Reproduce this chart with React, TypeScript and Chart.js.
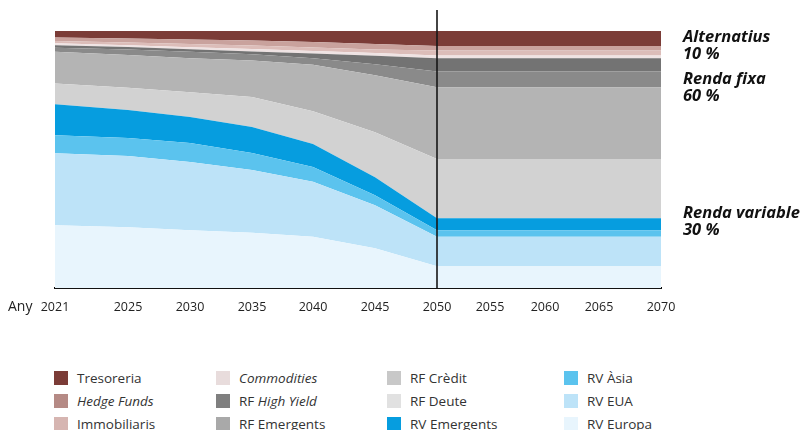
import React, { useEffect, useRef } from 'react';
import { Chart, registerables, LinearScale } from 'chart.js';

// ---- data -------------------------------------------------------------
const YEARS = [2021, 2025, 2030, 2035, 2040, 2045, 2050, 2055, 2060, 2065, 2070];
const TICK_LABELS = ['2021', '2025', '2030', '2035', '2040', '2045', '2050', '2055', '2060', '2065', '2070'];
const SPLIT_YEAR = 2050;

// (percent of portfolio, stacked to 100)
const tresoreria = [2.5, 2.9, 3.3, 3.7, 4.3, 5.1, 5.8, 5.8, 5.8, 5.8, 5.8];
const hedgeFunds = [1.4, 1.6, 1.8, 1.9, 2.1, 2.1, 1.8, 1.8, 1.8, 1.8, 1.8];
const immobiliaris = [0.9, 1.0, 1.2, 1.4, 1.4, 1.4, 1.9, 1.9, 1.9, 1.9, 1.9];
const commodities = [0.7, 0.7, 0.8, 1.0, 1.0, 1.0, 1.1, 1.1, 1.1, 1.1, 1.1];
const rfHighYield = [1.0, 1.0, 1.0, 1.0, 1.8, 3.3, 5.2, 5.2, 5.2, 5.2, 5.2];
const rfEmergents = [1.6, 2.1, 2.5, 2.5, 2.5, 4.3, 6.1, 6.1, 6.1, 6.1, 6.1];
const rfCredit = [12.3, 12.8, 13.2, 14.2, 18.1, 22.2, 27.9, 27.9, 27.9, 27.9, 27.9];
const rfDeute = [8.1, 8.6, 9.7, 11.7, 12.8, 17.5, 23.1, 23.1, 23.1, 23.1, 23.1];
const rvEmergents = [12.1, 10.9, 10.1, 10.1, 8.9, 7.0, 4.6, 4.6, 4.6, 4.6, 4.6];
const rvAsia = [7.0, 7.0, 7.4, 6.6, 5.8, 3.9, 2.6, 2.6, 2.6, 2.6, 2.6];
const rvEua = [28.0, 27.8, 26.5, 24.4, 21.4, 16.7, 11.4, 11.4, 11.4, 11.4, 11.4];
const rvEuropa = [24.4, 23.6, 22.5, 21.5, 19.9, 15.5, 8.5, 8.5, 8.5, 8.5, 8.5];

// ---- axis spacing (the printed axis is not proportional to time) ------
const TICK_GAPS = [73, 62, 62, 61, 62, 62, 53, 55, 54, 62];

class PiecewiseScale extends LinearScale {
  static id = 'piecewise';
  static defaults = {};
  decimalFor(value: number): number {
    const total = TICK_GAPS.reduce((a, b) => a + b, 0);
    let acc = 0;
    for (let i = 0; i < YEARS.length - 1; i++) {
      const g = TICK_GAPS[i];
      if (value <= YEARS[i + 1] || i === YEARS.length - 2) {
        return (acc + (g * (value - YEARS[i])) / (YEARS[i + 1] - YEARS[i])) / total;
      }
      acc += g;
    }
    return 1;
  }
  getPixelForValue(value: any) {
    if (value === null || value === undefined || isNaN(value)) return NaN;
    return this.getPixelForDecimal(this.decimalFor(+value));
  }
  getValueForPixel(pixel: number) {
    const d = this.getDecimalForPixel(pixel);
    const total = TICK_GAPS.reduce((a, b) => a + b, 0);
    let acc = 0;
    for (let i = 0; i < YEARS.length - 1; i++) {
      const g = TICK_GAPS[i] / total;
      if (d <= acc + g || i === YEARS.length - 2) {
        return YEARS[i] + ((d - acc) / g) * (YEARS[i + 1] - YEARS[i]);
      }
      acc += g;
    }
    return YEARS[YEARS.length - 1];
  }
}

Chart.register(...registerables, PiecewiseScale as any);

type Series = { label: string; values: number[]; color: string };

// bottom to top
const STACK: Series[] = [
  { label: 'RV Europa', values: rvEuropa, color: '#e8f5fd' },
  { label: 'RV EUA', values: rvEua, color: '#bde3f8' },
  { label: 'RV Àsia', values: rvAsia, color: '#5bc3ee' },
  { label: 'RV Emergents', values: rvEmergents, color: '#069ddf' },
  { label: 'RF Deute', values: rfDeute, color: '#d2d2d2' },
  { label: 'RF Crèdit', values: rfCredit, color: '#b4b4b4' },
  { label: 'RF Emergents', values: rfEmergents, color: '#8a8a8a' },
  { label: 'RF High Yield', values: rfHighYield, color: '#737373' },
  { label: 'Commodities', values: commodities, color: '#efe3e3' },
  { label: 'Immobiliaris', values: immobiliaris, color: '#dcbdb9' },
  { label: 'Hedge Funds', values: hedgeFunds, color: '#c9a29d' },
  { label: 'Tresoreria', values: tresoreria, color: '#7b3c37' },
];

// legend, column by column ("*" marks italic text)
const LEGEND_COLUMNS: { text: string; color: string }[][] = [
  [
    { text: 'Tresoreria', color: '#7b3c37' },
    { text: '*Hedge Funds*', color: '#b58a85' },
    { text: 'Immobiliaris', color: '#d6b5b1' },
  ],
  [
    { text: '*Commodities*', color: '#e8dcdc' },
    { text: 'RF *High Yield*', color: '#7f7f7f' },
    { text: 'RF Emergents', color: '#a9a9a9' },
  ],
  [
    { text: 'RF Crèdit', color: '#c8c8c8' },
    { text: 'RF Deute', color: '#e1e1e1' },
    { text: 'RV Emergents', color: '#069ddf' },
  ],
  [
    { text: 'RV Àsia', color: '#5bc3ee' },
    { text: 'RV EUA', color: '#bde3f8' },
    { text: 'RV Europa', color: '#e8f5fd' },
  ],
];
const LEGEND_X = [54, 216, 387, 564];

const ANNOTATIONS = [
  { lines: ['Alternatius', '10 %'], top: 27 },
  { lines: ['Renda fixa', '60 %'], top: 69 },
  { lines: ['Renda variable', '30 %'], top: 203 },
];

const FONT = '"Open Sans", "Noto Sans", sans-serif';

function RichText({ text }: { text: string }) {
  const parts = text.split('*');
  return (
    <>
      {parts.map((p, i) =>
        i % 2 === 1 ? (
          <i key={i}>{p}</i>
        ) : (
          <span key={i}>{p}</span>
        )
      )}
    </>
  );
}

const splitLine = {
  id: 'splitLine',
  afterDatasetsDraw(chart: any) {
    const x = chart.scales.x.getPixelForValue(SPLIT_YEAR);
    const ctx = chart.ctx;
    ctx.save();
    ctx.strokeStyle = '#161616';
    ctx.lineWidth = 1.6;
    ctx.beginPath();
    ctx.moveTo(x, 10);
    ctx.lineTo(x, chart.chartArea.bottom);
    ctx.stroke();
    ctx.restore();
  },
};

export default function App() {
  const ref = useRef<HTMLCanvasElement | null>(null);

  useEffect(() => {
    if (!ref.current) return;
    const chart = new Chart(ref.current, {
      type: 'line',
      data: {
        datasets: STACK.map((s, i) => ({
          label: s.label,
          data: YEARS.map((yr, j) => ({ x: yr, y: s.values[j] })),
          backgroundColor: s.color,
          borderColor: s.color,
          borderWidth: 0,
          pointRadius: 0,
          tension: 0,
          fill: i === 0 ? 'origin' : '-1',
        })),
      },
      options: {
        responsive: false,
        animation: false,
        layout: { padding: { left: 55, right: 145, top: 31, bottom: 0 } },
        plugins: { legend: { display: false }, tooltip: { enabled: false } },
        scales: {
          x: {
            type: 'piecewise' as any,
            min: YEARS[0],
            max: YEARS[YEARS.length - 1],
            grid: { display: false, drawTicks: false },
            border: { display: true, color: '#111', width: 2 },
            afterBuildTicks: (axis: any) => {
              axis.ticks = YEARS.map((v) => ({ value: v }));
            },
            afterFit: (axis: any) => {
              axis.height = 42;
            },
            ticks: {
              autoSkip: false,
              maxRotation: 0,
              padding: 12,
              color: '#222',
              font: { family: FONT, size: 12.5 },
              callback: (_v: any, idx: number) => TICK_LABELS[idx],
            },
          },
          y: {
            display: false,
            stacked: true,
            min: 0,
            max: 100,
          },
        },
      },
      plugins: [splitLine],
    } as any);
    return () => chart.destroy();
  }, []);

  return (
    <div
      style={{
        position: 'fixed',
        left: 0,
        top: 0,
        width: 806,
        height: 430,
        background: '#fff',
        fontFamily: FONT,
        overflow: 'hidden',
      }}
    >
      <canvas ref={ref} width={806} height={330} style={{ position: 'absolute', left: 0, top: 0, width: 806, height: 330 }} />
      <div style={{ position: 'absolute', left: 8, top: 297, fontSize: 14, color: '#222', lineHeight: '18px' }}>Any</div>
      {ANNOTATIONS.map((a, i) => (
        <div
          key={i}
          style={{
            position: 'absolute',
            left: 683,
            top: a.top,
            fontFamily: '"Open Sans", sans-serif',
            fontSize: 16.5,
            lineHeight: '17px',
            fontWeight: 700,
            fontStyle: 'italic',
            color: '#111',
            whiteSpace: 'nowrap',
          }}
        >
          {a.lines.map((l, j) => (
            <div key={j}>{l}</div>
          ))}
        </div>
      ))}
      {LEGEND_COLUMNS.map((col, ci) =>
        col.map((item, ri) => (
          <div
            key={ci + '-' + ri}
            style={{
              position: 'absolute',
              left: LEGEND_X[ci],
              top: 369 + ri * 23,
              height: 18,
              display: 'flex',
              alignItems: 'center',
              fontSize: 13.5,
              color: '#333',
              whiteSpace: 'nowrap',
            }}
          >
            <span style={{ display: 'inline-block', width: 14, height: 14, background: item.color, marginRight: 9 }} />
            <span>
              <RichText text={item.text} />
            </span>
          </div>
        ))
      )}
    </div>
  );
}
